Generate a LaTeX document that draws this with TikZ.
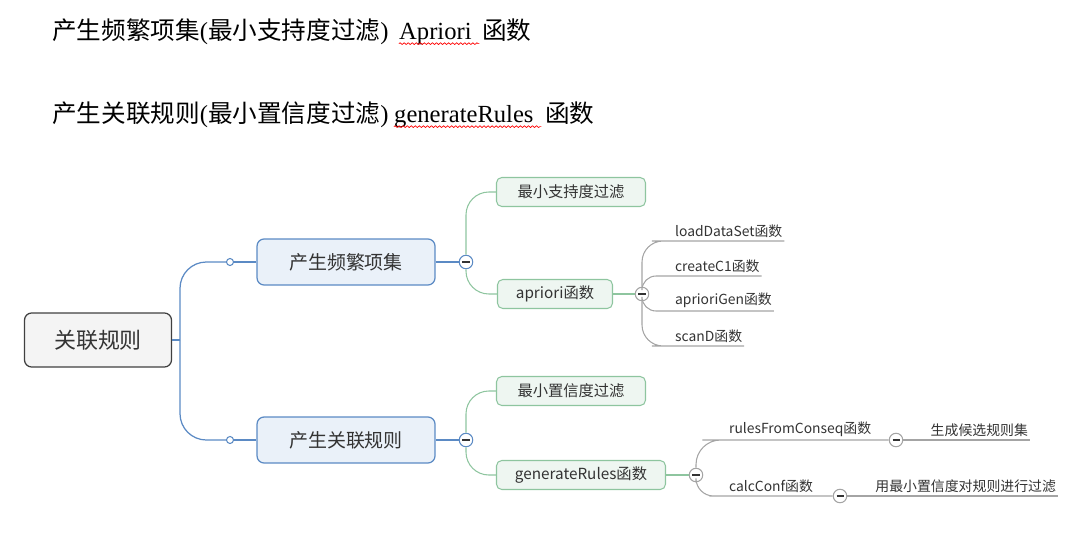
\documentclass[tikz,border=0pt]{standalone}
\usepackage{fontspec}
\setmainfont{Liberation Serif}
\newfontfamily\cjk{Noto Sans CJK SC}
\usetikzlibrary{positioning,decorations.pathmorphing}
\definecolor{bluedraw}{HTML}{5B8AC4}
\definecolor{bluefill}{HTML}{EAF1F9}
\definecolor{greendraw}{HTML}{8EC59F}
\definecolor{greenfill}{HTML}{EEF6F1}
\definecolor{rootdraw}{HTML}{404040}
\definecolor{rootfill}{HTML}{F4F4F4}
\definecolor{grayline}{HTML}{A4A4A4}
\definecolor{inktext}{HTML}{333333}
\begin{document}
\begin{tikzpicture}[x=0.02cm,y=-0.02cm,
  title/.style={inner sep=0pt, font=\fontsize{14}{16}\selectfont},
  wavy/.style={red, line width=0.4pt, decorate, decoration={snake, amplitude=0.5pt, segment length=2.3pt}},
  rootbox/.style={draw=rootdraw, fill=rootfill, rounded corners=4pt, line width=0.7pt, minimum width=2.94cm, minimum height=1.08cm, text=inktext, font=\cjk\fontsize{12.5}{14}\selectfont},
  topbox/.style={draw=bluedraw, fill=bluefill, rounded corners=4pt, line width=0.7pt, minimum width=3.56cm, minimum height=0.92cm, text=inktext, font=\cjk\fontsize{10.8}{13}\selectfont},
  subbox/.style={draw=greendraw, fill=greenfill, rounded corners=3pt, line width=0.6pt, minimum width=2.98cm, minimum height=0.58cm, text=inktext, font=\cjk\fontsize{8.7}{10}\selectfont},
  leaf/.style={inner xsep=1pt, inner ysep=1.5pt, text=inktext, font=\cjk\fontsize{7.9}{9}\selectfont},
  dot/.style={circle, draw=bluedraw, fill=white, line width=0.6pt, minimum size=0.14cm, inner sep=0pt},
  minus/.style={circle, fill=white, line width=0.6pt, minimum size=0.27cm, inner sep=0pt,
    path picture={\draw[inktext, line width=0.8pt] ([xshift=-2pt]path picture bounding box.center) -- ([xshift=2pt]path picture bounding box.center);}},
  bline/.style={bluedraw, line width=0.7pt},
  gline/.style={greendraw, line width=0.6pt},
  grline/.style={grayline, line width=0.6pt}]
\useasboundingbox (0,0) rectangle (1074,541);
% titles
\node[title, anchor=west] (t1a) at (52,32) {{\cjk 产生频繁项集}({\cjk 最小支持度过滤})};
\node[title, anchor=base west] (t1b) at ([xshift=0.2cm]t1a.base east) {Apriori};
\node[title, anchor=base west] (t1c) at ([xshift=0.2cm]t1b.base east) {\cjk 函数};
\draw[wavy] ([yshift=-2.2pt]t1b.base west) -- ([xshift=0.15cm,yshift=-2.2pt]t1b.base east);
\node[title, anchor=west] (t2a) at (52,115) {{\cjk 产生关联规则}({\cjk 最小置信度过滤})};
\node[title, anchor=base west] (t2b) at ([xshift=0.1cm]t2a.base east) {generateRules};
\node[title, anchor=base west] (t2c) at ([xshift=0.22cm]t2b.base east) {\cjk 函数};
\draw[wavy] ([yshift=-2.2pt]t2b.base west) -- ([xshift=0.15cm,yshift=-2.2pt]t2b.base east);
% root and first level
\node[rootbox] (root) at (98,340) {关联规则};
\coordinate (trunk) at (180,340);
\node[dot] (d1) at (230,262) {};
\node[dot] (d2) at (230,440) {};
\node[topbox] (freq) at (346,262) {产生频繁项集};
\node[topbox] (rule) at (346,440) {产生关联规则};
\draw[bline] (root.east) -- (trunk);
\draw[bline, rounded corners=15pt] (trunk) |- (d1.west);
\draw[bline, rounded corners=15pt] (trunk) |- (d2.west);
\draw[bline] (d1) -- (freq);
\draw[bline] (d2) -- (rule);
% frequent item sets
\node[minus, draw=bluedraw] (m1) at (466,262) {};
\draw[bline] (freq) -- (m1);
\node[subbox] (minsup) at (571,192) {最小支持度过滤};
\node[subbox, minimum width=2.3cm] (apri) at (555,294) {apriori函数};
\draw[gline, rounded corners=13pt] (m1.north) |- (minsup.west);
\draw[gline, rounded corners=13pt] (m1.south) |- (apri.west);
\node[minus, draw=grayline] (m2) at (642,294) {};
\draw[gline] (apri) -- (m2);
\node[leaf, anchor=south west] (load) at (673,241) {loadDataSet函数};
\node[leaf, anchor=south west] (cone) at (673,276) {createC1函数};
\node[leaf, anchor=south west] (agen) at (673,311) {aprioriGen函数};
\node[leaf, anchor=south west] (scan) at (673,346) {scanD函数};
\draw[grline, rounded corners=12pt] (m2.north) |- (load.south west) -- (load.south east);
\draw[grline, rounded corners=8pt] (m2.north) |- (cone.south west) -- (cone.south east);
\draw[grline, rounded corners=8pt] (m2.south) |- (agen.south west) -- (agen.south east);
\draw[grline, rounded corners=12pt] (m2.south) |- (scan.south west) -- (scan.south east);
% association rules
\node[minus, draw=bluedraw] (m3) at (466,440) {};
\draw[bline] (rule) -- (m3);
\node[subbox] (minconf) at (571,391) {最小置信度过滤};
\node[subbox, minimum width=3.38cm] (grules) at (581,475) {generateRules函数};
\draw[gline, rounded corners=13pt] (m3.north) |- (minconf.west);
\draw[gline, rounded corners=13pt] (m3.south) |- (grules.west);
\node[minus, draw=grayline] (m4) at (696,475) {};
\draw[gline] (grules) -- (m4);
\node[leaf, anchor=south west] (rfc) at (727,440) {rulesFromConseq函数};
\node[minus, draw=grayline] (m5) at (896,440) {};
\node[leaf, anchor=south east] (cand) at (1030,440) {生成候选规则集};
\draw[grline, rounded corners=14pt] (m4.north) |- (rfc.south west) -- (m5);
\draw[grline] (m5) -- (cand.south east);
\node[leaf, anchor=south west] (conf) at (727,496) {calcConf函数};
\node[minus, draw=grayline] (m6) at (840,496) {};
\node[leaf, anchor=south east] (filt) at (1058,496) {用最小置信度对规则进行过滤};
\draw[grline, rounded corners=10pt] (m4.south) |- (conf.south west) -- (m6);
\draw[grline] (m6) -- (filt.south east);
\end{tikzpicture}
\end{document}
